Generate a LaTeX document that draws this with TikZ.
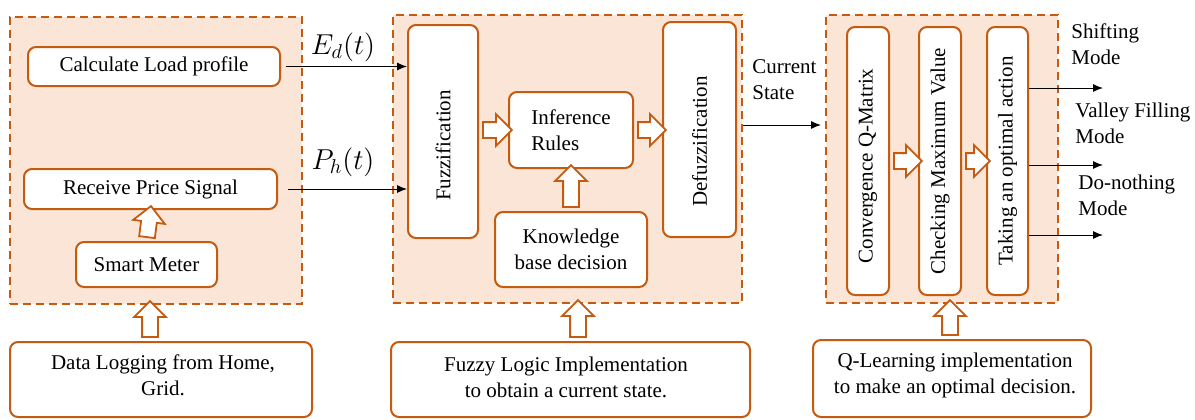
\documentclass[tikz,border=0pt]{standalone}
\usepackage{fontspec}
\setmainfont{Liberation Serif}
\usetikzlibrary{arrows.meta,calc,shapes.arrows}
\definecolor{orng}{RGB}{197,90,17}
\definecolor{peach}{RGB}{251,229,214}
\tikzset{
  grp/.style={draw=orng, fill=peach, line width=1pt, dash pattern=on 4pt off 2.5pt},
  box/.style={draw=orng, fill=white, line width=1pt, rounded corners=4pt, align=center, inner sep=0pt},
  vbox/.style={box, rotate=90},
  txt/.style={inner sep=0pt, align=center},
  blockarrow/.style={single arrow, draw=orng, fill=white, line width=0.9pt,
    inner xsep=0pt, inner ysep=3.5pt, single arrow head extend=4pt, single arrow tip angle=90,
    sloped, allow upside down},
  thin/.style={line width=0.5pt, -{Latex[length=5pt,width=4pt]}},
  lbl/.style={inner sep=0pt, align=left, anchor=west}
}
\newcommand{\blk}[2]{\path let \p1=($(#2)-(#1)$), \n1={veclen(\x1,\y1)} in (#1) -- node[blockarrow, minimum height=\n1] {} (#2);}
\begin{document}
\begin{tikzpicture}[x=0.5pt,y=-0.5pt, font=\fontsize{10.5}{13}\selectfont]
\useasboundingbox (0,0) rectangle (1195,419);
% groups
\node[grp, minimum width=146pt, minimum height=143.5pt] (g1) at (156,160.5) {};
\node[grp, minimum width=174.5pt, minimum height=144pt] (g2) at (567.5,159) {};
\node[grp, minimum width=116pt, minimum height=144pt] (g3) at (942,159) {};
% group 1
\node[box, minimum width=126pt, minimum height=19.5pt] (clp) at (154,66.5) {Calculate Load profile};
\node[box, minimum width=126.5pt, minimum height=20pt] (rps) at (150.5,189) {Receive Price Signal};
\node[box, minimum width=70.5pt, minimum height=22.5pt] (sm) at (146.5,264.5) {Smart Meter};
% group 2
\node[vbox, minimum width=106.5pt, minimum height=35pt] (fuzz) at (443,131.5) {Fuzzification\hspace{14pt}};
\node[box, align=left, minimum width=62pt, minimum height=38pt] (inf) at (571,130) {Inference\\Rules};
\node[box, minimum width=76pt, minimum height=37.5pt] (kb) at (571,249.5) {Knowledge\\base decision};
\node[vbox, minimum width=107.5pt, minimum height=36.5pt] (defuzz) at (699.5,129.5) {Defuzzification\hspace{12pt}};
% group 3
\node[vbox, minimum width=134pt, minimum height=21pt] (conv) at (868,161) {Convergence Q-Matrix\hspace{5pt}};
\node[vbox, minimum width=134pt, minimum height=21pt] (chk) at (940,161) {Checking Maximum Value};
\node[vbox, minimum width=134pt, minimum height=20.5pt] (take) at (1007.5,161) {Taking an optimal action};
% bottom boxes
\node[box, minimum width=151pt, minimum height=37.5pt] (b1) at (161,379.5) {};
\node[txt] (b1t) at (163,375) {Data Logging from Home,\\Grid.};
\node[box, minimum width=179.5pt, minimum height=37.5pt] (b2) at (570.5,379.5) {};
\node[txt] (b2t) at (566,377.5) {Fuzzy Logic Implementation\\to obtain a current state.};
\node[box, minimum width=139pt, minimum height=38.5pt] (b3) at (952,378.5) {};
\node[txt] (b3t) at (955,375) {Q-Learning implementation\\to make an optimal decision.};
% block arrows
\blk{sm.north}{rps.south}
\blk{kb.north}{inf.south}
\blk{fuzz.south |- inf.west}{inf.west}
\blk{inf.east}{defuzz.north |- inf.east}
\blk{conv.south}{chk.north}
\blk{chk.south}{take.north}
\coordinate (a1) at (150,342); \coordinate (a1t) at (150,305);
\coordinate (a2) at (578,342); \coordinate (a2t) at (578,304);
\coordinate (a3) at (950,340); \coordinate (a3t) at (950,304);
\blk{b1.north -| a1}{g1.south -| a1t}
\blk{b2.north -| a2}{g2.south -| a2t}
\blk{b3.north -| a3}{g3.south -| a3t}
% thin arrows
\draw[thin, shorten <=2.5pt] (clp.east) -- (clp.east -| fuzz.north);
\draw[thin, shorten <=5pt] (rps.east) -- (rps.east -| fuzz.north);
\node (ed) at (343,47) {\fontsize{14}{16}\selectfont$E_d(t)$};
\node (ph) at (343,162) {\fontsize{14}{16}\selectfont$P_h(t)$};
\coordinate (cs) at (0,125);
\draw[thin] (g2.east |- cs) -- ([xshift=-2pt]g3.west |- cs);
\node[lbl] (cst) at (752,80) {Current\\State};
\coordinate (o1) at (1103,88);
\coordinate (o2) at (1103,165);
\coordinate (o3) at (1103,235);
\draw[thin] (take.south |- o1) -- (o1);
\draw[thin] (take.south |- o2) -- (o2);
\draw[thin] (take.south |- o3) -- (o3);
\node[lbl] (m1) at (1071,44) {Shifting\\Mode};
\node[lbl] (m2) at (1075,123) {Valley Filling\\Mode};
\node[lbl] (m3) at (1078,195) {Do-nothing\\Mode};
\end{tikzpicture}
\end{document}
